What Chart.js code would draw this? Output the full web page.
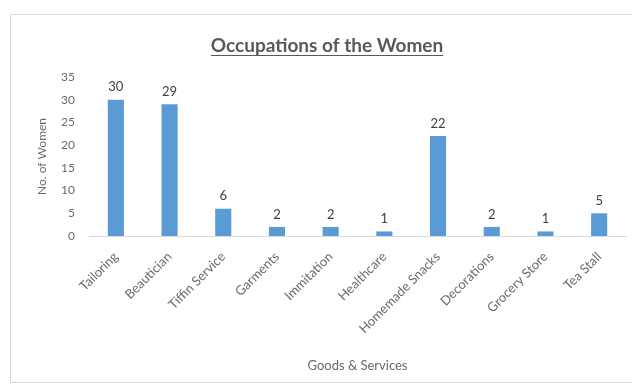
<!DOCTYPE html>
<html>
<head>
<meta charset="utf-8">
<script src="https://cdn.jsdelivr.net/npm/chart.js@4.4.0/dist/chart.umd.min.js"></script>
<style>
  html, body { margin: 0; padding: 0; background: #fff; }
  #wrap { width: 632px; height: 389px; }
</style>
</head>
<body>
<div id="wrap"><canvas id="mycanvas" width="632" height="389"></canvas></div>
<script>
var occupations = ['Tailoring', 'Beautician', 'Tiffin Service', 'Garments', 'Immitation',
  'Healthcare', 'Homemade Snacks', 'Decorations', 'Grocery Store', 'Tea Stall'];
var women = [30, 29, 6, 2, 2, 1, 22, 2, 1, 5];
var yTicks = [0, 5, 10, 15, 20, 25, 30, 35];

var grey = '#595959';
var lightGrey = '#6a6a6a';

// frame, underlined heading and value labels over each bar
var decor = {
  id: 'decor',
  beforeDraw: function(chart){
    var ctx = chart.ctx;
    ctx.save();
    ctx.fillStyle = '#fff';
    ctx.fillRect(0, 0, chart.width, chart.height);
    ctx.strokeStyle = '#d9d9d9';
    ctx.lineWidth = 1;
    ctx.strokeRect(10.5, 14.5, 640, 368);
    ctx.restore();
  },
  afterDraw: function(chart){
    var ctx = chart.ctx;
    ctx.save();
    ctx.font = 'bold 19px Lato';
    ctx.fillStyle = grey;
    ctx.textAlign = 'center';
    ctx.textBaseline = 'alphabetic';
    var txt = 'Occupations of the Women';
    var x = 327, y = 52;
    ctx.fillText(txt, x, y);
    var w = ctx.measureText(txt).width;
    ctx.strokeStyle = grey;
    ctx.lineWidth = 1.2;
    ctx.beginPath();
    ctx.moveTo(x - w / 2, y + 3.5);
    ctx.lineTo(x + w / 2, y + 3.5);
    ctx.stroke();

    var meta = chart.getDatasetMeta(0);
    ctx.font = '13px Lato';
    ctx.fillStyle = '#404040';
    ctx.textBaseline = 'bottom';
    meta.data.forEach(function(bar, i){
      ctx.fillText(women[i], bar.x, bar.y - 6);
    });
    ctx.restore();
  }
};

var chartdata = {
  labels: occupations,
  datasets: [{
    label: 'No. of Women',
    backgroundColor: '#5B9BD5',
    borderWidth: 0,
    barPercentage: 0.6,
    categoryPercentage: 0.5,
    data: women
  }]
};

var ctx = document.getElementById('mycanvas');
var barGraph = new Chart(ctx, {
  type: 'bar',
  data: chartdata,
  plugins: [decor],
  options: {
    responsive: false,
    animation: false,
    devicePixelRatio: 1,
    layout: { padding: { top: 77, right: 6, bottom: 0, left: 0 } },
    plugins: {
      legend: { display: false },
      tooltip: { enabled: false }
    },
    scales: {
      x: {
        grid: { display: false, drawTicks: false },
        border: { display: true, color: '#d9d9d9', width: 1 },
        ticks: {
          color: lightGrey,
          font: { family: 'Lato', size: 13 },
          minRotation: 45,
          maxRotation: 45,
          autoSkip: false,
          padding: 13
        },
        title: {
          display: true,
          text: 'Goods & Services',
          color: lightGrey,
          font: { family: 'Lato', size: 13 },
          padding: { top: 0, bottom: 15 }
        },
        afterFit: function(scale){ scale.height = 153; }
      },
      y: {
        min: 0,
        max: 35,
        grid: { display: false, drawTicks: false },
        border: { display: false },
        afterBuildTicks: function(scale){
          scale.ticks = yTicks.map(function(v){ return { value: v }; });
        },
        ticks: {
          color: lightGrey,
          font: { family: 'Lato', size: 12 },
          padding: 14
        },
        title: {
          display: true,
          text: 'No. of Women',
          color: lightGrey,
          font: { family: 'Lato', size: 12 },
          padding: { top: 35, bottom: 0 }
        },
        afterFit: function(scale){ scale.width = 89; }
      }
    }
  }
});
</script>
</body>
</html>
